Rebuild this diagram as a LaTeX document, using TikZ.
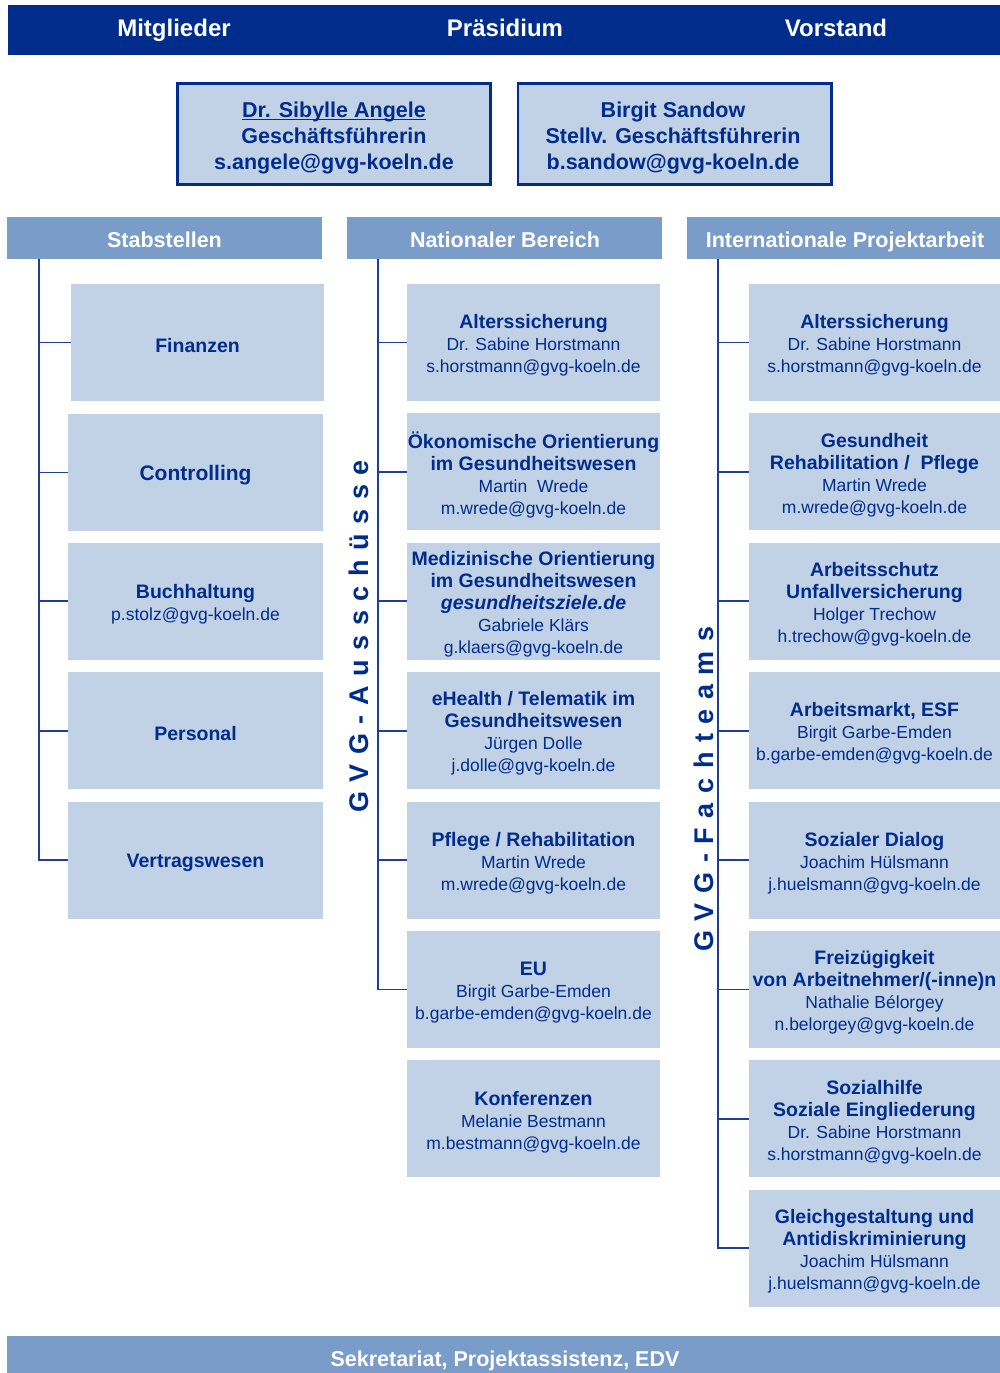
\documentclass[tikz,border=0pt]{standalone}
\usepackage{fontspec}
\setmainfont{Liberation Sans}
\definecolor{navy}{HTML}{002D8C}
\definecolor{hdrc}{HTML}{7A9CC9}
\definecolor{lite}{HTML}{C1D2E7}
\definecolor{lnc}{HTML}{1F3D99}
\newcommand\tb{\fontsize{19.5}{22}\selectfont\bfseries}
\newcommand\rg{\fontsize{17.5}{22}\selectfont\mdseries}
\newcommand\gp{\hspace{9.6pt}}
\newcommand\myul[1]{\setbox0\hbox{#1}\rlap{\rule[-3pt]{\wd0}{1.6pt}}\box0}
\newcommand\bx[5]{\node[#2] (#1) at (#3,#4) {};
  \node[btext] (#1t) at ([yshift=-3pt]#1.center) {#5};}
\begin{document}
\begin{tikzpicture}[x=1pt,y=-1pt,
  box/.style={rectangle, fill=lite, inner sep=0pt, minimum height=117pt},
  btext/.style={inner sep=0pt, text=navy, align=center, font=\tb},
  sbox/.style={box, minimum width=255pt},
  nbox/.style={box, minimum width=253pt},
  ibox/.style={box, minimum width=251pt},
  hdrbox/.style={rectangle, fill=hdrc, minimum width=315pt, minimum height=42pt, inner sep=0pt},
  bartext/.style={text=white, anchor=base, inner sep=0pt, font=\fontsize{21.5}{26}\selectfont\bfseries},
  toptext/.style={text=white, anchor=base, inner sep=0pt, font=\fontsize{24}{28}\selectfont\bfseries},
  topbox/.style={rectangle, draw=navy, line width=2.6pt, fill=lite, minimum width=313.4pt, minimum height=101.4pt, inner sep=0pt},
  toplabel/.style={inner sep=0pt, text=navy, align=center, font=\fontsize{21.5}{26.3}\selectfont\bfseries},
  vtext/.style={rotate=90, anchor=base, inner sep=0pt, text=navy, font=\fontsize{27}{30}\selectfont\bfseries},
  conn/.style={draw=lnc, line width=1.8pt},
  ]
\useasboundingbox (0,0) rectangle (1000,1373);

% top bar
\node[rectangle, fill=navy, minimum width=992pt, minimum height=50pt, inner sep=0pt] (topbar) at (504,30) {};
\node[toptext] (mitgl) at (174,36) {Mitglieder};
\node[toptext] (praes) at (505,36) {Präsidium};
\node[toptext] (vorst) at (836,36) {Vorstand};

% management boxes
\node[topbox] (gf) at (334,134) {};
\node[toplabel] (gft) at (334,138) {\myul{Dr. Sibylle Angele}\\Geschäftsführerin\\s.angele@gvg-koeln.de};
\node[topbox] (sgf) at (674.5,134) {};
\node[toplabel] (sgft) at (673,138) {Birgit Sandow\\Stellv. Geschäftsführerin\\b.sandow@gvg-koeln.de};

% column headers
\node[hdrbox] (hS) at (164.5,238) {};
\node[hdrbox] (hN) at (504.5,238) {};
\node[hdrbox, minimum width=313pt] (hI) at (843.5,238) {};
\node[bartext] (tS) at (164.5,247) {Stabstellen};
\node[bartext] (tN) at (505,247) {Nationaler Bereich};
\node[bartext] (tI) at (845,247) {Internationale Projektarbeit};

% Stabstellen
\bx{s1}{sbox, minimum width=253pt}{197.5}{342.5}{Finanzen}
\bx{s2}{sbox}{195.5}{472.5}{\fontsize{21}{24}\selectfont Controlling}
\bx{s3}{sbox}{195.5}{601.3}{Buchhaltung\\\rg p.stolz@gvg-koeln.de}
\bx{s4}{sbox}{195.5}{730.7}{Personal}
\bx{s5}{sbox}{195.5}{860.1}{Vertragswesen}

% Nationaler Bereich
\bx{n1}{nbox}{533.5}{342.5}{Alterssicherung\\\rg Dr. Sabine Horstmann\\\rg s.horstmann@gvg-koeln.de}
\bx{n2}{nbox}{533.5}{471.9}{Ökonomische Orientierung\\im Gesundheitswesen\\\rg Martin\ \ Wrede\\\rg m.wrede@gvg-koeln.de}
\bx{n3}{nbox}{533.5}{601.3}{Medizinische Orientierung\\im Gesundheitswesen\\{\itshape gesundheitsziele.de}\\\rg Gabriele Klärs\\\rg g.klaers@gvg-koeln.de}
\bx{n4}{nbox}{533.5}{730.7}{eHealth / Telematik im\\Gesundheitswesen\\\rg Jürgen Dolle\\\rg j.dolle@gvg-koeln.de}
\bx{n5}{nbox}{533.5}{860.1}{Pflege / Rehabilitation\\\rg Martin Wrede\\\rg m.wrede@gvg-koeln.de}
\bx{n6}{nbox}{533.5}{989.5}{EU\\\rg Birgit Garbe-Emden\\\rg b.garbe-emden@gvg-koeln.de}
\bx{n7}{nbox}{533.5}{1118.9}{Konferenzen\\\rg Melanie Bestmann\\\rg m.bestmann@gvg-koeln.de}

% Internationale Projektarbeit
\bx{i1}{ibox}{874.5}{342.5}{Alterssicherung\\\rg Dr. Sabine Horstmann\\\rg s.horstmann@gvg-koeln.de}
\bx{i2}{ibox}{874.5}{471.9}{Gesundheit\\Rehabilitation /\ \ Pflege\\\rg Martin Wrede\\\rg m.wrede@gvg-koeln.de}
\bx{i3}{ibox}{874.5}{601.3}{Arbeitsschutz\\Unfallversicherung\\\rg Holger Trechow\\\rg h.trechow@gvg-koeln.de}
\bx{i4}{ibox}{874.5}{730.7}{Arbeitsmarkt, ESF\\\rg Birgit Garbe-Emden\\\rg b.garbe-emden@gvg-koeln.de}
\bx{i5}{ibox}{874.5}{860.1}{Sozialer Dialog\\\rg Joachim Hülsmann\\\rg j.huelsmann@gvg-koeln.de}
\bx{i6}{ibox}{874.5}{989.5}{Freizügigkeit\\von Arbeitnehmer/(-inne)n\\\rg Nathalie Bélorgey\\\rg n.belorgey@gvg-koeln.de}
\bx{i7}{ibox}{874.5}{1118.9}{Sozialhilfe\\Soziale Eingliederung\\\rg Dr. Sabine Horstmann\\\rg s.horstmann@gvg-koeln.de}
\bx{i8}{ibox}{874.5}{1248.3}{Gleichgestaltung und\\Antidiskriminierung\\\rg Joachim Hülsmann\\\rg j.huelsmann@gvg-koeln.de}

% vertical labels
\node[vtext] (va) at (368,636.5) {G\gp V\gp G\gp -\gp A\gp u\gp s\gp s\gp c\gp h\gp ü\gp s\gp s\gp e};
\node[vtext] (vf) at (713.5,789) {G\gp V\gp G\gp -\gp F\gp a\gp c\gp h\gp t\gp e\gp a\gp m\gp s};

% connectors
\coordinate (vs) at (39,259);
\coordinate (vn) at (378,259);
\coordinate (vi) at (718,259);
\draw[conn] (vs) |- (s5.west);
\foreach \b in {s1,s2,s3,s4} \draw[conn] (vs |- \b.west) -- (\b.west);
\draw[conn] (vn) |- (n6.west);
\foreach \b in {n1,n2,n3,n4,n5} \draw[conn] (vn |- \b.west) -- (\b.west);
\draw[conn] (vi) |- (i8.west);
\foreach \b in {i1,i2,i3,i4,i5,i6,i7} \draw[conn] (vi |- \b.west) -- (\b.west);

% bottom bar
\node[rectangle, fill=hdrc, minimum width=993pt, minimum height=37pt, inner sep=0pt] (botbar) at (503.5,1354.5) {};
\node[bartext] (bottext) at (505,1366) {Sekretariat, Projektassistenz, EDV};
\end{tikzpicture}
\end{document}
